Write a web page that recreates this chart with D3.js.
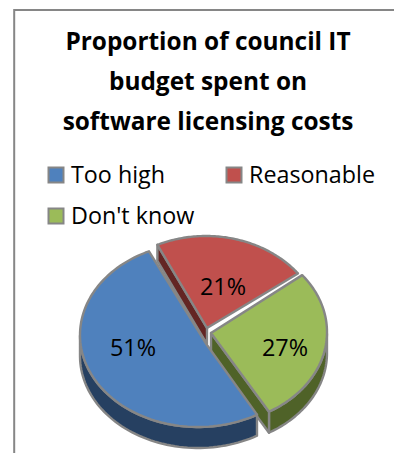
<!DOCTYPE html>
<html>
<head>
<meta charset="utf-8">
<script src="https://cdn.jsdelivr.net/npm/d3@7/dist/d3.min.js"></script>
<style>
html,body{margin:0;padding:0;background:#fff;overflow:hidden}
svg{display:block}
</style>
</head>
<body>
<svg id="chart" width="394" height="453"></svg>
<script>
// Survey answers, in percent
const categories = ["Too high", "Reasonable", "Don't know"];
const values = [51, 21, 27];
const titleLines = ["Proportion of council IT", "budget spent on", "software licensing costs"];

const topColors = ["#4f81bd", "#c0504d", "#9bbb59"];
const wallColors = ["#264061", "#632523", "#4f6228"];
const edgeColor = "#868686";

// Exploded slices sit on slightly different tilted ellipses
const discs = [
  {cx: 198, cy: 335, rx: 118, ry: 92, tipX: 207, tipY: 345, depth: 21, labelX: 133, labelY: 356},
  {cx: 206, cy: 334, rx: 117, ry: 98, tipX: 207, tipY: 328, depth: 16, labelX: 223, labelY: 295},
  {cx: 211, cy: 332, rx: 116, ry: 92, tipX: 211, tipY: 333, depth: 21, labelX: 285, labelY: 356}
];

const svg = d3.select("#chart");

// Frame runs off the right and bottom of the page
svg.append("path")
  .attr("d", "M14.2,453V10H394")
  .attr("fill", "none")
  .attr("stroke", "#868686")
  .attr("stroke-width", 2);

svg.append("g").selectAll("text").data(titleLines).join("text")
  .attr("x", 208)
  .attr("y", (d, i) => 50 + i * 40)
  .attr("text-anchor", "middle")
  .attr("font-family", "'Open Sans'")
  .attr("font-weight", 700)
  .attr("font-size", 24.4)
  .attr("fill", "#000")
  .text(d => d);

// Legend
const legendAt = [[48, 167], [226, 167], [48, 208]];
const legend = svg.append("g").selectAll("g").data(categories).join("g")
  .attr("transform", (d, i) => `translate(${legendAt[i]})`);
legend.append("rect")
  .attr("x", 0.5).attr("y", 0.5).attr("width", 15).attr("height", 15)
  .attr("fill", (d, i) => topColors[i])
  .attr("stroke", edgeColor).attr("stroke-width", 2);
legend.append("text")
  .attr("x", 23).attr("y", 16)
  .attr("font-family", "'Open Sans'")
  .attr("font-size", 23.3)
  .attr("fill", "#000")
  .text(d => d);

// Pie: blue slice starts at the lower right and runs clockwise
const rotation = 150 * Math.PI / 180;
const arcs = d3.pie().sort(null).startAngle(rotation).endAngle(rotation + 2 * Math.PI)(values);

const rim = (disc, a) => [disc.cx + disc.rx * Math.sin(a), disc.cy - disc.ry * Math.cos(a)];
const rimPoints = (disc, a0, a1) => d3.range(0, 91).map(k => rim(disc, a0 + (a1 - a0) * k / 90));
const line = d3.line();

const pie = svg.append("g");
// Back slices first, the large front slice last
[1, 2, 0].forEach(i => {
  const disc = discs[i], arc = arcs[i];
  const tip = [disc.tipX, disc.tipY];
  const pts = rimPoints(disc, arc.startAngle, arc.endAngle);
  const drop = p => [p[0], p[1] + disc.depth];
  const style = sel => sel
    .attr("stroke", edgeColor).attr("stroke-width", 2.4).attr("stroke-linejoin", "round");

  // Only the part of the rim on the near side of the disc shows a wall
  const near = pts.filter(p => p[1] > disc.cy);
  if (near.length > 1) {
    pie.append("path")
      .attr("d", line(near.concat(near.map(drop).reverse())) + "Z")
      .attr("fill", wallColors[i]).call(style);
  }
  // Cut faces that turn towards the viewer
  const faces = [];
  if (Math.sin(arc.startAngle) < 0) faces.push(pts[0]);
  if (Math.cos(arc.endAngle) < 0) faces.push(pts[pts.length - 1]);
  faces.forEach(p => {
    pie.append("path")
      .attr("d", line([tip, p, drop(p), drop(tip)]) + "Z")
      .attr("fill", wallColors[i]).call(style);
  });
  // Top face
  pie.append("path")
    .attr("d", line([tip].concat(pts)) + "Z")
    .attr("fill", topColors[i]).call(style);
});

pie.append("g").selectAll("text").data(values).join("text")
  .attr("x", (d, i) => discs[i].labelX)
  .attr("y", (d, i) => discs[i].labelY)
  .attr("text-anchor", "middle")
  .attr("font-family", "'Open Sans'")
  .attr("font-size", 23.4)
  .attr("fill", "#000")
  .text(d => d + "%");
</script>
</body>
</html>
